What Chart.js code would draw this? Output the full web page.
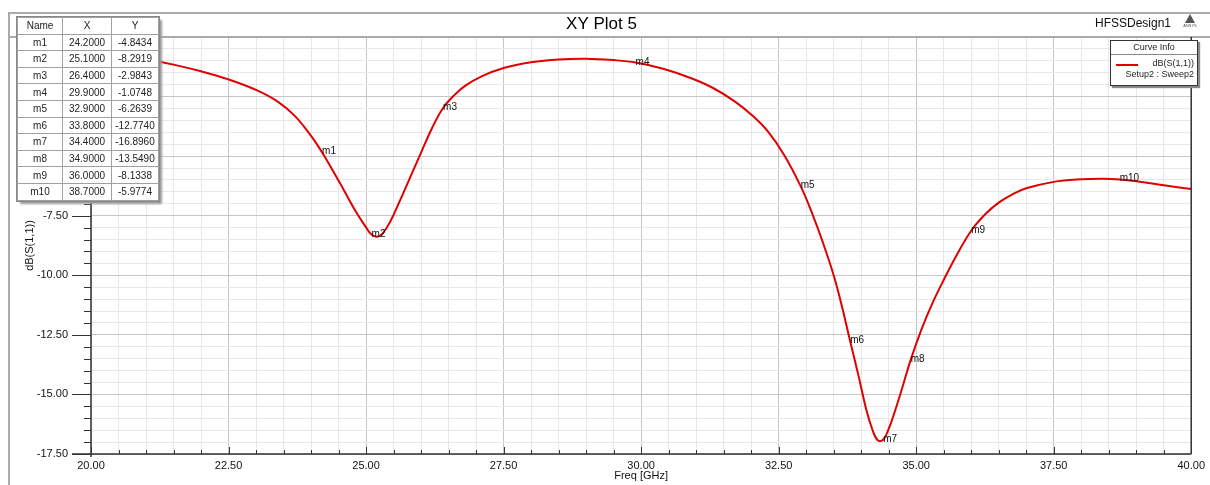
<!DOCTYPE html>
<html>
<head>
<meta charset="utf-8">
<title>XY Plot 5</title>
<script src="https://cdn.jsdelivr.net/npm/chart.js@4.4.0/dist/chart.umd.min.js"></script>
<style>
  html, body { margin: 0; padding: 0; background: #fff; }
  body { width: 1210px; height: 485px; overflow: hidden; font-family: "Liberation Sans", Arial, sans-serif; }
  #wrap { position: relative; width: 1210px; height: 485px; }
  #frame { position: absolute; left: 8px; top: 12px; width: 1210px; height: 480px; border-top: 2px solid #ababab; border-left: 2px solid #ababab; pointer-events: none; }
  #design { position: absolute; left: 1095px; top: 16px; font-size: 12px; color: #111; }
  #logo { position: absolute; left: 1180px; top: 14px; width: 20px; height: 18px; text-align: center; }
  #logo .tri { width: 0; height: 0; margin: 0 auto; border-left: 5px solid transparent; border-right: 5px solid transparent; border-bottom: 9px solid #555; }
  #logo .txt { font-size: 4px; color: #555; line-height: 6px; }
  #markerTable { position: absolute; left: 17px; top: 17px; border-collapse: collapse; background: #fff; font-size: 10px; color: #222; box-shadow: 3px 3px 2px #9a9a9a; outline: 1px solid #888; }
  #markerTable td, #markerTable th { border: 1px solid #a0a0a0; height: 15.6px; padding: 0; text-align: center; font-weight: normal; }
  #curveInfo { position: absolute; left: 1110px; top: 40px; width: 86px; height: 44px; border: 1px solid #333; background: #fff; font-size: 9px; color: #222; box-shadow: 2px 2px 1px #8a8a8a; }
  #curveInfo .head { text-align: center; height: 13px; line-height: 13px; border-bottom: 1px solid #888; }
  #curveInfo .row { position: relative; height: 11px; line-height: 11px; text-align: right; padding-right: 3px; }
  #curveInfo .swatch { position: absolute; left: 5px; top: 6px; width: 22px; height: 0; border-top: 2px solid #e00000; }
</style>
</head>
<body>
<div id="wrap">
  <canvas id="plot" width="1210" height="485"></canvas>
  <div id="frame"></div>
  <div id="design">HFSSDesign1</div>
  <div id="logo"><div class="tri"></div><div class="txt">ANSYS</div></div>
  <table id="markerTable"></table>
  <div id="curveInfo">
    <div class="head">Curve Info</div>
    <div class="row" style="margin-top:3px"><span class="swatch"></span>dB(S(1,1))</div>
    <div class="row">Setup2 : Sweep2</div>
  </div>
</div>
<script>
// S11 curve (GHz, dB)
var freqGHz = [20.0, 20.5, 21.0, 21.5, 22.0, 22.5, 23.0, 23.4, 23.7, 24.0, 24.2, 24.4, 24.6, 24.8, 25.0, 25.1,
    25.2, 25.3, 25.45, 25.6, 25.8, 26.0, 26.2, 26.4, 26.6, 26.8, 27.1, 27.5, 28.0, 28.5, 29.0, 29.5,
    29.9, 30.4, 30.9, 31.3, 31.7, 32.0, 32.3, 32.6, 32.9, 33.1, 33.3, 33.5, 33.65, 33.8, 33.95, 34.1,
    34.2, 34.3, 34.4, 34.5, 34.6, 34.75, 34.9, 35.1, 35.3, 35.5, 35.75, 36.0, 36.25, 36.5, 36.75, 37.0,
    37.5, 38.0, 38.4, 38.7, 39.0, 39.5, 40.0];
var s11dB = [-0.62, -0.76, -0.93, -1.16, -1.44, -1.78, -2.22, -2.72, -3.30, -4.15, -4.84, -5.62, -6.44, -7.27, -7.99, -8.29,
    -8.38, -8.25, -7.70, -6.95, -5.90, -4.85, -3.82, -2.98, -2.45, -2.05, -1.65, -1.30, -1.06, -0.94, -0.91, -0.97,
    -1.07, -1.33, -1.72, -2.13, -2.70, -3.25, -3.95, -4.95, -6.26, -7.35, -8.60, -10.00, -11.30, -12.77, -14.20, -15.70,
    -16.45, -16.92, -16.90, -16.45, -15.80, -14.70, -13.55, -12.25, -11.15, -10.20, -9.10, -8.13, -7.45, -6.95, -6.60, -6.35,
    -6.08, -5.97, -5.95, -5.98, -6.05, -6.22, -6.38];

// marker table
var markerNames = ['m1', 'm2', 'm3', 'm4', 'm5', 'm6', 'm7', 'm8', 'm9', 'm10'];
var markerX = [24.2, 25.1, 26.4, 29.9, 32.9, 33.8, 34.4, 34.9, 36.0, 38.7];
var markerY = [-4.8434, -8.2919, -2.9843, -1.0748, -6.2639, -12.7740, -16.8960, -13.5490, -8.1338, -5.9774];

var xMin = 20, xMax = 40;
var yMin = -17.5, yMax = 0;
var fontFamily = '"Liberation Sans", Arial, sans-serif';

function isMajor(v) {
    var q = v / 2.5;
    return Math.abs(q - Math.round(q)) < 1e-6;
}

// fill the marker table
var table = document.getElementById('markerTable');
var html = '<tr><th style="width:44px">Name</th><th style="width:48px">X</th><th style="width:46px">Y</th></tr>';
for (var i = 0; i < markerNames.length; i++) {
    html += '<tr><td>' + markerNames[i] + '</td><td>' + markerX[i].toFixed(4) + '</td><td>' + markerY[i].toFixed(4) + '</td></tr>';
}
table.innerHTML = html;

var points = freqGHz.map(function(f, i) { return {x: f, y: s11dB[i]}; });

// m1..m10 labels next to the curve
var markerLabels = {
    id: 'markerLabels',
    afterDatasetsDraw: function(chart) {
        var ctx = chart.ctx, x = chart.scales.x, y = chart.scales.y;
        ctx.save();
        ctx.font = '10px ' + fontFamily;
        ctx.fillStyle = '#111';
        ctx.textAlign = 'left';
        ctx.textBaseline = 'alphabetic';
        markerNames.forEach(function(n, i) {
            ctx.fillText(n, x.getPixelForValue(markerX[i]), y.getPixelForValue(markerY[i]) + 2);
        });
        ctx.restore();
    }
};

// plot border and tick marks
var plotFrame = {
    id: 'plotFrame',
    afterDraw: function(chart) {
        var ctx = chart.ctx, a = chart.chartArea, x = chart.scales.x, y = chart.scales.y;
        ctx.save();
        ctx.strokeStyle = '#ababab';
        ctx.lineWidth = 2;
        ctx.beginPath();
        ctx.moveTo(10, a.top);
        ctx.lineTo(1210, a.top);
        ctx.stroke();

        ctx.strokeStyle = '#333';
        ctx.lineWidth = 1.5;
        ctx.beginPath();
        ctx.moveTo(a.left, a.top);
        ctx.lineTo(a.left, a.bottom + 3);
        ctx.moveTo(a.left - 19, a.bottom);
        ctx.lineTo(a.right, a.bottom);
        ctx.moveTo(a.right, a.top);
        ctx.lineTo(a.right, a.bottom);
        ctx.stroke();

        ctx.lineWidth = 1;
        ctx.beginPath();
        for (var v = yMin; v <= yMax + 1e-9; v += 0.5) {
            var py = Math.round(y.getPixelForValue(v)) + 0.5;
            ctx.moveTo(a.left - (isMajor(v) ? 19 : 7), py);
            ctx.lineTo(a.left, py);
        }
        for (var f = xMin; f <= xMax + 1e-9; f += 0.5) {
            var px = Math.round(x.getPixelForValue(f)) + 0.5;
            ctx.moveTo(px, a.bottom);
            ctx.lineTo(px, a.bottom - (isMajor(f) ? 7 : 4));
        }
        ctx.stroke();
        ctx.restore();
    }
};

new Chart(document.getElementById('plot'), {
    type: 'line',
    data: {
        datasets: [{
            label: 'dB(S(1,1))',
            data: points,
            borderColor: '#e00000',
            borderWidth: 2,
            pointRadius: 0,
            tension: 0.4,
            fill: false
        }]
    },
    options: {
        responsive: false,
        animation: false,
        events: [],
        layout: { padding: { left: 10, right: 17, top: 0, bottom: 0 } },
        plugins: {
            legend: { display: false },
            tooltip: { enabled: false },
            title: {
                display: true,
                text: 'XY Plot 5',
                color: '#000',
                font: { family: fontFamily, size: 17, weight: 'normal' },
                padding: { top: 14, bottom: 2.6 }
            }
        },
        scales: {
            x: {
                type: 'linear',
                min: xMin,
                max: xMax,
                border: { display: false },
                grid: {
                    drawTicks: false,
                    color: function(c) { return isMajor(c.tick.value) ? '#c6c6c6' : '#e8e8e8'; }
                },
                ticks: {
                    stepSize: 0.5,
                    autoSkip: false,
                    maxRotation: 0,
                    padding: 5,
                    color: '#111',
                    font: { family: fontFamily, size: 11 },
                    callback: function(v) { return isMajor(v) ? v.toFixed(2) : ''; }
                },
                title: {
                    display: true,
                    text: 'Freq [GHz]',
                    color: '#111',
                    font: { family: fontFamily, size: 11 },
                    padding: { top: 0, bottom: 2 }
                },
                afterFit: function(s) { s.height = 31; }
            },
            y: {
                min: yMin,
                max: yMax,
                border: { display: false },
                grid: {
                    drawTicks: false,
                    color: function(c) { return isMajor(c.tick.value) ? '#c6c6c6' : '#e8e8e8'; }
                },
                ticks: {
                    stepSize: 0.5,
                    autoSkip: false,
                    padding: 23,
                    color: '#111',
                    font: { family: fontFamily, size: 11 },
                    callback: function(v) { return isMajor(v) ? v.toFixed(2) : ''; }
                },
                title: {
                    display: true,
                    text: 'dB(S(1,1))',
                    color: '#111',
                    font: { family: fontFamily, size: 11 },
                    padding: { top: 13, bottom: 0 }
                },
                afterFit: function(s) { s.width = 81; }
            }
        }
    },
    plugins: [markerLabels, plotFrame]
});
</script>
</body>
</html>
